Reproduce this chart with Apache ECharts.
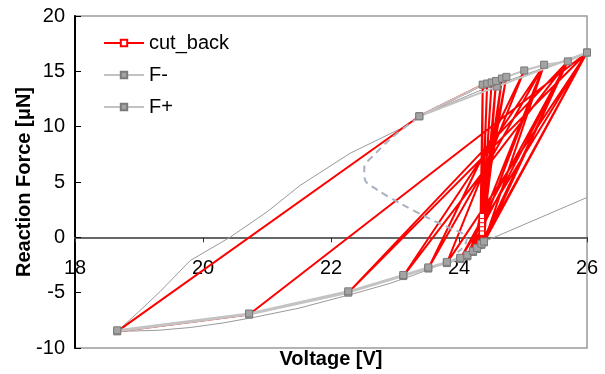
<!DOCTYPE html>
<html>
<head>
<meta charset="utf-8">
<script src="https://cdn.jsdelivr.net/npm/echarts@6/dist/echarts.min.js"></script>
<style>html,body{margin:0;padding:0;background:#fff}#c{width:605px;height:374px}</style>
</head>
<body>
<div id="c"></div>
<script>
// ---- data ----
const legendNames = ['cut_back', 'F-', 'F+'];
const xMin = 18, xMax = 26, xStep = 2;
const yMin = -10, yMax = 20, yStep = 5;

// cut-back path (voltage, force)
const cutV = [24.37, 23.38, 18.66, 20.72, 26.0, 22.27, 25.70, 23.13, 25.33, 23.52, 25.02, 23.81, 26.0, 24.02, 25.70, 24.13, 25.33, 24.22, 24.74, 24.28, 24.67, 24.35, 26.0, 24.39, 24.58, 24.36, 24.51, 24.36, 24.44, 24.36, 24.37, 24.36, 24.44, 24.36, 24.37, 24.33, 25.70, 24.39, 25.33];
const cutF = [13.80, 10.94, -8.50, -6.98, 16.70, -5.00, 15.90, -3.50, 15.60, -2.82, 15.08, -2.33, 16.70, -1.95, 15.90, -1.72, 15.60, -1.32, 14.50, -1.05, 14.35, -0.68, 16.70, -0.45, 14.13, 0.40, 14.00, 0.80, 13.90, 1.18, 13.75, 1.55, 13.90, 1.93, 13.75, -0.80, 15.90, -0.45, 15.60];

// F- branches
const fMinusLowV = [18.66, 20.72, 22.27, 23.13, 23.52, 23.81, 24.02, 24.13, 24.22, 24.28, 24.35, 24.39];
const fMinusLowF = [-8.50, -6.98, -5.00, -3.50, -2.82, -2.33, -1.95, -1.72, -1.32, -1.05, -0.68, -0.45];
const fMinusUpV = [23.38, 24.59, 26.0];
const fMinusUpF = [10.94, 13.62, 16.70];

// F+ branches
const fPlusLowV = [18.66, 20.72, 22.27, 23.13, 23.52, 23.81, 24.02, 24.13, 24.22, 24.28, 24.35, 24.39];
const fPlusLowF = [-8.40, -6.88, -4.88, -3.40, -2.72, -2.22, -1.85, -1.60, -1.22, -0.95, -0.58, -0.38];
const fPlusUpV = [23.38, 24.37, 24.44, 24.51, 24.58, 24.67, 24.74, 25.02, 25.33, 25.70, 26.0];
const fPlusUpF = [10.94, 13.80, 13.90, 14.00, 14.13, 14.35, 14.50, 15.08, 15.60, 15.90, 16.70];

// model curve (thin line)
const modelV = [26.0, 24.33, 24.20, 24.00, 23.70, 23.30, 22.90, 22.35, 21.50, 20.78, 20.30, 19.80, 19.30, 18.66, 19.00, 19.33, 19.80, 20.42, 21.00, 21.52, 22.30, 23.08, 23.38, 24.30, 26.0];
const modelF = [3.60, -0.55, -1.20, -1.80, -2.50, -3.40, -4.20, -5.10, -6.40, -7.25, -7.75, -8.15, -8.40, -8.50, -6.70, -4.90, -2.10, 0.00, 2.30, 4.70, 7.60, 9.80, 10.94, 13.20, 16.70];

// unstable branch (dashed)
const unstV = [24.20, 23.70, 23.30, 22.93, 22.70, 22.52, 22.53, 22.72, 23.10, 23.50, 23.85, 24.07, 24.12, 24.08, 23.98];
const unstF = [13.25, 11.90, 10.55, 8.90, 7.60, 6.30, 5.20, 4.30, 3.00, 1.80, 0.85, 0.30, -0.20, -0.80, -1.35];

const pairs = (xs, ys) => xs.map((x, i) => [x, ys[i]]);

const FONT = 'Arial, "Liberation Sans", sans-serif';
const grayMarker = { color: '#a3a3a3', borderColor: '#7a7a7a', borderWidth: 1 };
const grayLine = { color: '#c3c3c3', width: 2 };

const GRID = { left: 75, right: 18, top: 16, bottom: 26 };
const plotH = 374 - GRID.top - GRID.bottom;
const zeroOffset = plotH * (0 - yMin) / (yMax - yMin); // distance of the y=0 line above the grid bottom

const chart = echarts.init(document.getElementById('c'), null, { renderer: 'canvas' });
chart.setOption({
  animation: false,
  backgroundColor: '#fff',
  textStyle: { fontFamily: FONT },
  grid: Object.assign({ show: true, borderColor: '#9a9a9a', borderWidth: 1.5,
          backgroundColor: 'transparent', containLabel: false, outerBoundsMode: 'none' }, GRID),
  legend: {
    data: legendNames,
    orient: 'vertical',
    left: 98, top: 28,
    itemWidth: 40, itemHeight: 8, itemGap: 12,
    textStyle: { fontSize: 20, color: '#000', fontFamily: FONT }
  },
  xAxis: {
    type: 'value', min: xMin, max: xMax, interval: xStep,
    position: 'bottom', offset: -zeroOffset,
    axisLine: { onZero: false, lineStyle: { color: '#666', width: 2 } },
    axisTick: { show: true, length: 5, lineStyle: { color: '#333' } },
    axisLabel: { fontSize: 20, color: '#000', margin: 21, showMinLabel: true, showMaxLabel: true, fontFamily: FONT },
    splitLine: { show: false },
    name: 'Voltage [V]', nameLocation: 'middle', nameGap: 112, nameMoveOverlap: false,
    nameTextStyle: { fontSize: 20, fontWeight: 'bold', color: '#000', fontFamily: FONT }
  },
  yAxis: {
    type: 'value', min: yMin, max: yMax, interval: yStep,
    axisLine: { show: true, onZero: false, lineStyle: { color: '#000', width: 2 } },
    axisTick: { show: true, inside: true, length: 6, lineStyle: { color: '#000' } },
    axisLabel: { fontSize: 20, color: '#000', margin: 10, fontFamily: FONT },
    splitLine: { show: false },
    name: 'Reaction Force [μN]', nameLocation: 'middle', nameGap: 41, nameMoveOverlap: false,
    nameTextStyle: { fontSize: 20, fontWeight: 'bold', color: '#000', fontFamily: FONT }
  },
  series: [
    { name: 'model', type: 'line', data: pairs(modelV, modelF), symbol: 'none', silent: true,
      lineStyle: { color: '#9a9a9a', width: 1 }, z: 1 },
    { name: 'cut_back', type: 'line', data: pairs(cutV, cutF), symbol: 'rect', symbolSize: 5,
      lineStyle: { color: '#ff0000', width: 2 }, itemStyle: { color: '#ffffff', borderColor: '#ff0000', borderWidth: 1 }, z: 2 },
    { name: 'unstable', type: 'line', data: pairs(unstV, unstF), symbol: 'none', smooth: 0.3,
      lineStyle: { color: '#a9b0c0', width: 2, type: [7, 5] }, z: 3 },
    { name: 'F-', type: 'line', data: pairs(fMinusLowV, fMinusLowF), symbol: 'rect', symbolSize: 7,
      lineStyle: grayLine, itemStyle: grayMarker, z: 4 },
    { name: 'F-', type: 'line', data: pairs(fMinusUpV, fMinusUpF), symbol: 'rect', symbolSize: 7,
      lineStyle: grayLine, itemStyle: grayMarker, z: 4 },
    { name: 'F+', type: 'line', data: pairs(fPlusLowV, fPlusLowF), symbol: 'rect', symbolSize: 7,
      lineStyle: grayLine, itemStyle: grayMarker, z: 4 },
    { name: 'F+', type: 'line', data: pairs(fPlusUpV, fPlusUpF), symbol: 'rect', symbolSize: 7,
      lineStyle: grayLine, itemStyle: grayMarker, z: 4 }
  ]
});
</script>
</body>
</html>
